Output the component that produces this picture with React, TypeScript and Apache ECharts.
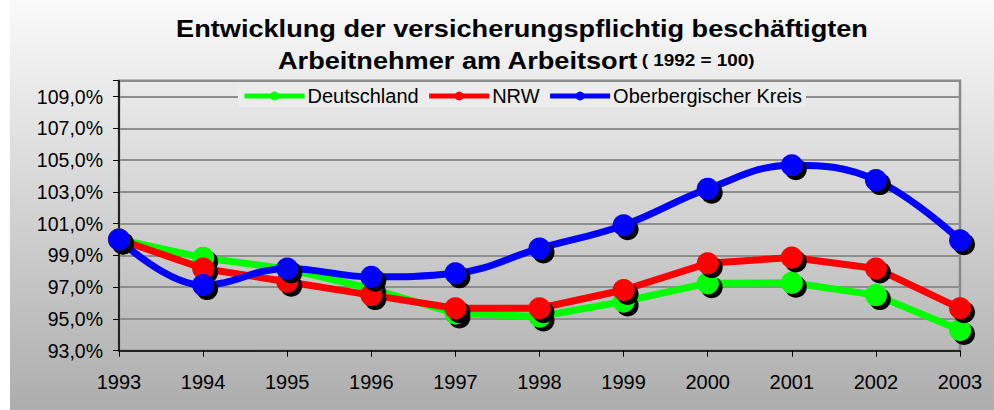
import React, { useEffect, useRef } from "react";
import * as echarts from "echarts";

const years = ["1993", "1994", "1995", "1996", "1997", "1998", "1999", "2000", "2001", "2002", "2003"];
const deutschland = [100.0, 98.85, 98.15, 96.9, 95.35, 95.15, 96.1, 97.25, 97.28, 96.5, 94.3];
const nrw = [100.0, 98.18, 97.34, 96.5, 95.67, 95.67, 96.82, 98.5, 98.87, 98.18, 95.67];
const oberberg = [100.0, 97.13, 98.18, 97.65, 97.87, 99.44, 100.9, 103.2, 104.68, 103.74, 99.96];
const seriesNames = ["Deutschland", "NRW", "Oberbergischer Kreis"];
const seriesColors = ["#00ff00", "#ff0000", "#0000ff"];
const titleLine1 = "Entwicklung der versicherungspflichtig beschäftigten";
const titleLine2 = "Arbeitnehmer am Arbeitsort";
const titleNote = "( 1992 = 100)";

const FONT = "'Liberation Sans', Arial, sans-serif";

export default function App() {
  const ref = useRef<HTMLDivElement>(null);
  useEffect(() => {
    if (!ref.current) return;
    const chart = echarts.init(ref.current, null, { renderer: "svg" });
    const data = [deutschland, nrw, oberberg];
    const mkSeries = (i: number) => ({
      name: seriesNames[i],
      type: "line",
      data: data[i],
      smooth: i === 2 ? 0.4 : false,
      symbol: "circle",
      symbolSize: 22,
      z: 2 + i,
      lineStyle: { color: seriesColors[i], width: 7 },
      itemStyle: {
        color: seriesColors[i],
        shadowColor: "#000000",
        shadowBlur: 0,
        shadowOffsetX: 4,
        shadowOffsetY: 4,
      },
      emphasis: { disabled: true },
    });
    chart.setOption({
      animation: false,
      backgroundColor: "#ffffff",
      graphic: [
        {
          type: "rect",
          z: -10,
          shape: { x: 10, y: 0, width: 984, height: 410 },
          style: {
            fill: new echarts.graphic.LinearGradient(0, 0, 0, 1, [
              { offset: 0, color: "#fafafa" },
              { offset: 1, color: "#adadad" },
            ]),
          },
          silent: true,
        },
        {
          type: "text",
          x: 522,
          y: 29,
          scaleX: 1.18,
          style: {
            text: titleLine1,
            font: `bold 23px ${FONT}`,
            fill: "#000",
            textAlign: "center",
            textVerticalAlign: "middle",
          },
        },
        {
          type: "text",
          x: 516,
          y: 61,
          scaleX: 1.18,
          style: {
            text: `{a|${titleLine2}} {b|${titleNote}}`,
            textAlign: "center",
            textVerticalAlign: "middle",
            rich: {
              a: { font: `bold 23px ${FONT}`, fill: "#000" },
              b: { font: `bold 16px ${FONT}`, fill: "#000" },
            },
          },
        },
      ],
      legend: {
        data: seriesNames,
        left: 238,
        top: 85,
        padding: [1, 4, 1, 4],
        backgroundColor: "#ececec",
        itemWidth: 60,
        itemHeight: 11,
        itemGap: 8,
        textStyle: { fontFamily: FONT, fontSize: 20, color: "#000", padding: [0, 0, 0, -2] },
        lineStyle: { width: 5 },
        itemStyle: { shadowBlur: 0, shadowOffsetX: 0, shadowOffsetY: 0, shadowColor: "transparent" },
        selectedMode: false,
      },
      grid: {
        left: 119,
        right: 34,
        top: 80.7,
        bottom: 59.3,
        show: true,
        borderColor: "#8a8a8a",
        borderWidth: 2.5,
        backgroundColor: "transparent",
      },
      xAxis: {
        type: "category",
        data: years,
        boundaryGap: false,
        axisLine: { lineStyle: { color: "#000", width: 1.5 } },
        axisTick: { show: true, length: 6, lineStyle: { color: "#000" } },
        axisLabel: { fontFamily: FONT, fontSize: 20, color: "#000", margin: 21 },
        splitLine: { show: false },
      },
      yAxis: {
        type: "value",
        min: 93,
        max: 110,
        interval: 2,
        axisLine: { show: true, lineStyle: { color: "#000", width: 1.5 } },
        axisTick: { show: true, length: 6, lineStyle: { color: "#000" } },
        axisLabel: {
          fontFamily: FONT,
          fontSize: 19.5,
          color: "#000",
          margin: 16,
          formatter: (v: number) => (v > 109.5 ? "" : v.toFixed(1).replace(".", ",") + "%"),
        },
        splitLine: { show: true, lineStyle: { color: "#8e8e8e", width: 2 } },
      },
      series: [mkSeries(0), mkSeries(1), mkSeries(2)],
    });
    return () => chart.dispose();
  }, []);
  return (
    <div
      ref={ref}
      style={{ position: "fixed", left: 0, top: 0, width: 994, height: 410 }}
    />
  );
}
